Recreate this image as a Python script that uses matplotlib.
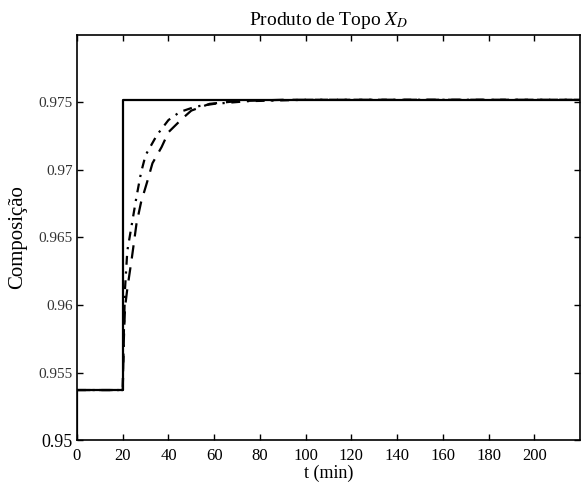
import numpy as np
import matplotlib
matplotlib.use("Agg")
import matplotlib.pyplot as plt

plt.rcParams['font.family'] = ['Liberation Serif', 'DejaVu Serif']
plt.rcParams['mathtext.fontset'] = 'stix'

# setpoint (solid step)
t_sp = [0, 0, 20, 20, 220]
x_sp = [0.95, 0.9537, 0.9537, 0.9752, 0.9752]

# faster response (dash-dot)
t_a = [0, 20, 20.5, 21, 22, 24, 26, 28, 30, 35, 40, 45, 52, 60, 75, 100, 140, 220]
x_a = [0.9537, 0.9537, 0.958, 0.9612, 0.9640, 0.9660, 0.9680, 0.9698, 0.9711, 0.9726,
       0.9737, 0.9743, 0.9747, 0.9749, 0.9751, 0.9752, 0.9752, 0.9752]

# slower response (dashed)
t_b = [0, 20, 20.5, 21, 22, 24, 26, 28, 31, 33, 37, 40, 46, 50, 58, 70, 90, 120, 220]
x_b = [0.9537, 0.9537, 0.9575, 0.9598, 0.9612, 0.9635, 0.9660, 0.9676, 0.9693, 0.9705,
       0.9717, 0.9728, 0.9738, 0.9744, 0.9749, 0.9751, 0.9752, 0.9752, 0.9752]

xticks = [0, 20, 40, 60, 80, 100, 120, 140, 160, 180, 200]
yticks = [0.95, 0.955, 0.96, 0.965, 0.97, 0.975]
ylabels = ['0.95', '0.955', '0.96', '0.965', '0.97', '0.975']

fig = plt.figure(figsize=(5.82, 4.84), dpi=100)
ax = fig.add_axes([0.1323, 0.0909, 0.8643, 0.8368])

ax.plot(t_a, x_a, color='black', lw=1.6, linestyle=(0, (4, 3, 1, 3)))
ax.plot(t_b, x_b, color='black', lw=1.6, linestyle=(0, (6, 4)))
ax.plot(t_sp, x_sp, color='black', lw=1.6)

ax.set_xlim(0, 220)
ax.set_ylim(0.95, 0.98)
ax.set_xticks(xticks)
ax.set_xticklabels([str(v) for v in xticks], fontsize=12)
ax.set_yticks(yticks)
ax.set_yticklabels(ylabels, fontsize=11, color='#333333')
ax.get_yticklabels()[0].set_fontsize(13)
ax.get_yticklabels()[0].set_color('black')
ax.tick_params(direction='in', length=4, width=1, top=True, right=True)
ax.tick_params(axis='x', pad=6)
ax.tick_params(axis='y', pad=3)
for s in ax.spines.values():
    s.set_linewidth(1.2)

ax.set_title('Produto de Topo $X_D$', fontsize=14, pad=7)
ax.set_xlabel('t (min)', fontsize=13, labelpad=0)
ax.set_ylabel('Composição', fontsize=15, labelpad=8)

fig.savefig('out.png', dpi=100)
